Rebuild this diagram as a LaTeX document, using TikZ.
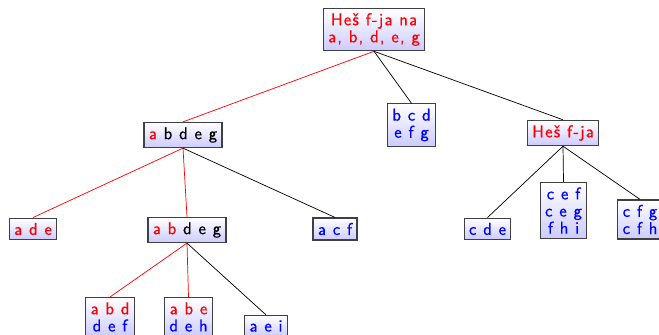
\documentclass[tikz,border=0pt]{standalone}
\usepackage{fontspec}

\newfontfamily\uzor{lmsans12-regular.otf}[LetterSpace=7, FakeBold=0.6]

\newcommand\crv[1]{\textcolor{red}{#1}}
\newcommand\pla[1]{\textcolor{blue}{#1}}

\tikzset{
  blok/.style={draw=black!75, line width=0.8pt, top color=white, bottom color=blue!20,
    align=center, inner sep=3.4pt,
    font=\uzor\fontsize{12}{12}\selectfont},
  put/.style={red, line width=0.5pt},
  grana/.style={black, line width=0.5pt}
}

\begin{document}
\begin{tikzpicture}[x=0.7pt, y=-0.7pt]
\useasboundingbox (0,0) rectangle (659,335);
\clip (0,0) rectangle (659,335);

% koren
\node[blok] (k) at (374,29.5) {\crv{Heš f-ja na}\\\crv{a, b, d, e, g}};

% prvi nivo
\node[blok] (l1) at (183,135) {\crv{a} b d e g};
\node[blok] (l2) at (411.5,125) {\pla{b c d}\\\pla{e f g}};
\node[blok] (l3) at (563,133) {\crv{Heš f-ja}};

% drugi nivo
\node[blok] (m1) at (33,229) {\crv{a d e}};
\node[blok] (m2) at (187,230) {\crv{a} \crv{b} d e g};
\node[blok] (m3) at (335,229) {\pla{a c f}};
\node[blok] (m4) at (487.5,229) {\pla{c d e}};
\node[blok] (m5) at (563.5,210.5) {\pla{c e f}\\\pla{c e g}\\\pla{f h i}};
\node[blok] (m6) at (640,219.5) {\pla{c f g}\\\pla{c f h}};

% treci nivo
\node[blok] (n1) at (110,317) {\crv{a b d}\\\pla{d e f}};
\node[blok] (n2) at (188.5,317) {\crv{a b e}\\\pla{d e h}};
\node[blok] (n3) at (266,326) {\pla{a e i}};

% grane
\draw[put] (k.south) -- (l1.north);
\draw[grana] (k.south) -- (l2.north);
\draw[grana] (k.south) -- (l3.north);

\draw[put] (l1.south) -- (m1.north);
\draw[put] (l1.south) -- (m2.north);
\draw[grana] (l1.south) -- (m3.north);

\draw[grana] (l3.south) -- (m4.north);
\draw[grana] (l3.south) -- (m5.north);
\draw[grana] (l3.south) -- (m6.north);

\draw[put] (m2.south) -- (n1.north);
\draw[put] (m2.south) -- (n2.north);
\draw[grana] (m2.south) -- (n3.north);

\end{tikzpicture}
\end{document}
